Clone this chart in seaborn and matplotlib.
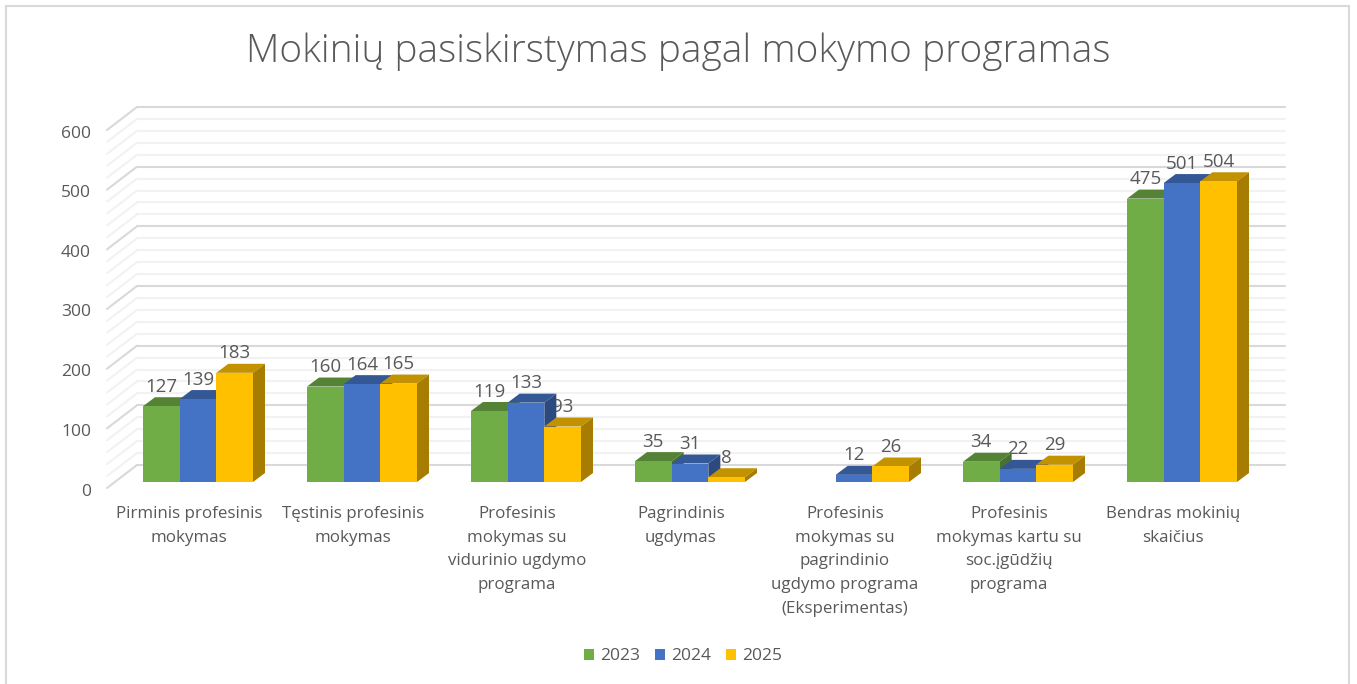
import matplotlib
matplotlib.use("Agg")
import matplotlib.pyplot as plt
from matplotlib.lines import Line2D
from matplotlib.patches import Polygon
from matplotlib.transforms import Affine2D
import pandas as pd
import seaborn as sns

# Data
categories = [
    "Pirminis profesinis\nmokymas",
    "Tęstinis profesinis\nmokymas",
    "Profesinis\nmokymas su\nvidurinio ugdymo\nprograma",
    "Pagrindinis\nugdymas",
    "Profesinis\nmokymas su\npagrindinio\nugdymo programa\n(Eksperimentas)",
    "Profesinis\nmokymas kartu su\nsoc.įgūdžių\nprograma",
    "Bendras mokinių\nskaičius",
]
values_2023 = [127, 160, 119, 35, None, 34, 475]
values_2024 = [139, 164, 133, 31, 12, 22, 501]
values_2025 = [183, 165, 93, 8, 26, 29, 504]
years = ["2023", "2024", "2025"]
colors = ["#70AD47", "#4472C4", "#FFC000"]
y_major = [0, 100, 200, 300, 400, 500, 600]
y_grid = list(range(0, 601, 20))

W, H = 1357, 684
TEXT = "#595959"

sns.set_theme(style="white")
plt.rcParams["font.family"] = ["Open Sans", "DejaVu Sans"]

rows = []
for year, vals in zip(years, [values_2023, values_2024, values_2025]):
    for cat, v in zip(categories, vals):
        rows.append({"category": cat, "year": year, "value": v})
df = pd.DataFrame(rows)

fig = plt.figure(figsize=(W / 100, H / 100), dpi=100, facecolor="white")
# front plane of the chart: x 116-1264 px, y 124-482 px
ax = fig.add_axes([116 / W, 1 - 482 / H, 1148 / W, 358 / H])

sns.barplot(data=df, x="category", y="value", hue="year", order=categories, hue_order=years,
            palette=colors, saturation=1, width=110 / 164, gap=0, errorbar=None,
            linewidth=0, ax=ax)
ax.set_xlim(-0.5, 6.5)
ax.set_ylim(0, 600)
ax.set_xlabel("")
ax.set_ylabel("")
ax.patch.set_alpha(0)
sns.despine(ax=ax, left=True, bottom=True)

# walls of the fake 3D box, shifted from the front plane in pixels
back = ax.transData + Affine2D().translate(21, 17)
for v in y_grid:
    col = "#d9d9d9" if v in y_major else "#f2f2f2"
    ax.add_line(Line2D([-0.5, 6.5], [v, v], color=col, lw=1.5, transform=back, clip_on=False, zorder=0.5))
    x0, y0 = back.transform((-0.5, v))
    ax.add_line(Line2D([x0 - 30, x0], [y0 - 23, y0], color=col, lw=1.5, transform=None, clip_on=False, zorder=0.5))

# depth of each bar, darker top and side
px_x = 7 / 1148
px_y = 600 / 358
dx, dy = 12 * px_x, 9 * px_y
for c, container in enumerate(ax.containers):
    ax.bar_label(container, fmt="%d", padding=7.5, fontsize=13.5, color=TEXT, zorder=2)

patches = [(p, c) for c, cont in enumerate(ax.containers) for p in cont.patches if p.get_height() > 0]
patches.sort(key=lambda t: t[0].get_x())
for i, (p, c) in enumerate(patches):
    x, w, h = p.get_x(), p.get_width(), p.get_height()
    rgb = matplotlib.colors.to_rgb(colors[c])
    top = Polygon([(x, h), (x + dx, h + dy), (x + w + dx, h + dy), (x + w, h)],
                  fc=[k * 0.76 for k in rgb], ec="none", zorder=3 + i * 0.01)
    side = Polygon([(x + w, 0), (x + w + dx, dy), (x + w + dx, h + dy), (x + w, h)],
                   fc=[k * 0.65 for k in rgb], ec="none", zorder=3 + i * 0.01)
    ax.add_patch(top)
    ax.add_patch(side)
    p.set_zorder(3 + i * 0.01 + 0.001)
    top.set_clip_on(False)
    side.set_clip_on(False)
    p.set_clip_on(False)

# ticks
ax.set_yticks(y_major)
ax.tick_params(axis="both", length=0)
ax.tick_params(axis="y", pad=18, labelsize=12.5, labelcolor=TEXT)
ax.tick_params(axis="x", pad=17, labelsize=12.2, labelcolor=TEXT)
for lab in ax.get_yticklabels():
    lab.set_transform(lab.get_transform() + Affine2D().translate(0, -7.5))
for lab in ax.get_xticklabels():
    lab.set_transform(lab.get_transform() + Affine2D().translate(-9, 0))
    lab.set_linespacing(1.66)

# legend at the bottom
sns.move_legend(ax, "center", bbox_to_anchor=(683 / W, 1 - 656.5 / H), bbox_transform=fig.transFigure,
                ncol=3, frameon=False, title=None, fontsize=12.5, labelcolor=TEXT,
                handlelength=0.58, handleheight=0.65, handletextpad=0.35, columnspacing=0.85)

fig.text(678 / W, 1 - 52 / H, "Mokinių pasiskirstymas pagal mokymo programas", ha="center", va="center",
         fontsize=27.9, color=TEXT, fontweight="light")

# chart frame: left, top and right edges only
px = Affine2D().scale(1, -1).translate(0, H)
for xs, ys in [([6, 6], [H, 6]), ([6, 1349], [6, 6]), ([1349, 1349], [6, H])]:
    fig.add_artist(Line2D(xs, ys, color="#d9d9d9", lw=1.5, transform=px))

fig.savefig("out.png", dpi=100)
